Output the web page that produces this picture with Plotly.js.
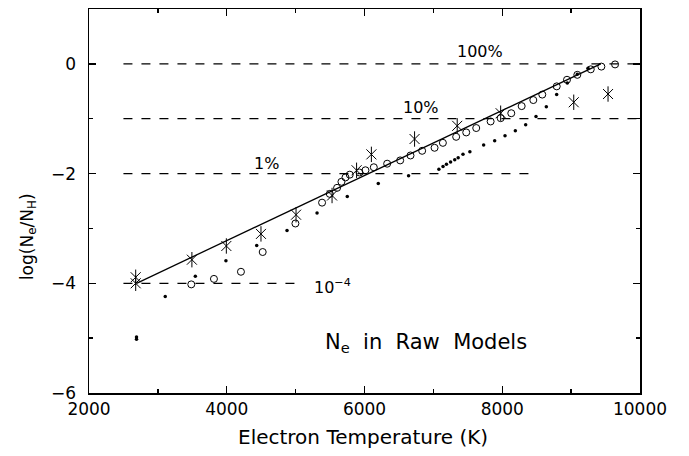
<!DOCTYPE html>
<html>
<head>
<meta charset="utf-8">
<script src="https://cdn.plot.ly/plotly-3.0.1.min.js"></script>
<style>html,body{margin:0;padding:0;background:#fff;}#chart{width:689px;height:456px;}</style>
</head>
<body>
<div id="chart"></div>
<script>
// Open circles
const circT = [3485, 3814, 4206, 4522, 4997, 5384, 5496, 5602, 5665, 5724, 5786, 5927, 6014, 6135, 6329, 6518, 6668, 6837, 7017, 7138, 7331, 7477, 7622, 7831, 7977, 8131, 8282, 8451, 8581, 8791, 8940, 9090, 9285, 9439, 9638];
const circY = [-4.02, -3.92, -3.79, -3.43, -2.91, -2.53, -2.37, -2.26, -2.15, -2.07, -2.02, -1.98, -1.94, -1.885, -1.82, -1.76, -1.67, -1.585, -1.53, -1.44, -1.33, -1.25, -1.17, -1.05, -0.99, -0.90, -0.77, -0.66, -0.56, -0.41, -0.29, -0.20, -0.10, -0.05, -0.01];
// Asterisks
const starT = [2678, 2678, 3494, 3994, 4497, 5006, 5529, 5885, 6100, 6727, 7346, 7977, 9038, 9536];
const starY = [-3.89, -4.00, -3.57, -3.32, -3.10, -2.75, -2.40, -1.94, -1.65, -1.37, -1.13, -0.90, -0.70, -0.55];
// Small dots
const dotT = [2690, 2690, 3107, 3544, 3988, 4435, 4875, 5311, 5750, 6200, 6640, 7080, 7140, 7190, 7250, 7310, 7360, 7430, 7530, 7730, 7890, 8040, 8190, 8340, 8490, 8640, 8790, 8945, 9090, 9245];
const dotY = [-4.98, -5.02, -4.24, -3.87, -3.59, -3.31, -3.04, -2.72, -2.42, -2.18, -2.04, -1.92, -1.87, -1.83, -1.79, -1.75, -1.71, -1.65, -1.60, -1.48, -1.40, -1.31, -1.22, -1.11, -0.96, -0.78, -0.56, -0.35, -0.19, -0.08];
// Fitted line
const fitT = [2690, 9430];
const fitY = [-4.0, 0.0];
// Reference (ionization fraction) dashed lines
const refLevels = [0, -1, -2, -4];
const refStart = [2500, 2500, 2500, 2500];
const refEnd = [10000, 10000, 8500, 5000];
const refLabels = ['100%', '10%', '1%', '10<sup>\u22124</sup>'];
const refLabelT = [7677, 6820, 4580, 5238];
const refLabelY = [0.22, -0.80, -1.82, -4.05];
// Axis ticks
const xTicks = [2000, 4000, 6000, 8000, 10000];
const yTicks = [-6, -4, -2, 0];

const FONT = 'DejaVu Sans, Liberation Sans, sans-serif';
const traces = [];
refLevels.forEach((lv, i) => {
  traces.push({x: [refStart[i], refEnd[i]], y: [lv, lv], mode: 'lines', line: {color: '#000', width: 1.3, dash: '9px,9px'}, hoverinfo: 'skip', showlegend: false});
});
traces.push({x: fitT, y: fitY, mode: 'lines', line: {color: '#000', width: 1.3}, showlegend: false});
traces.push({x: circT, y: circY, mode: 'markers', marker: {symbol: 'circle-open', size: 7, color: '#000', line: {width: 1, color: '#000'}}, showlegend: false});
// six-armed asterisk: vertical bar + X
traces.push({x: starT, y: starY, mode: 'markers', marker: {symbol: 'line-ns-open', size: 11, color: '#000', line: {width: 1, color: '#000'}}, showlegend: false});
traces.push({x: starT, y: starY, mode: 'markers', marker: {symbol: 'x-thin-open', size: 10, color: '#000', line: {width: 1, color: '#000'}}, showlegend: false});
traces.push({x: dotT, y: dotY, mode: 'markers', marker: {symbol: 'circle', size: 3.5, color: '#000'}, showlegend: false});

const annotations = refLabels.map((t, i) => ({
  x: refLabelT[i], y: refLabelY[i], xref: 'x', yref: 'y', text: t, showarrow: false,
  xanchor: i === 3 ? 'left' : 'center', yanchor: 'middle', font: {family: FONT, size: 16, color: '#000'}
}));
annotations.push({x: 5397, y: -5.09, xref: 'x', yref: 'y', text: 'N<sub>e</sub>  in  Raw  Models', showarrow: false, xanchor: 'left', yanchor: 'middle', font: {family: FONT, size: 21, color: '#000'}});
annotations.push({x: -0.1107, y: 0.406, xref: 'paper', yref: 'paper', text: 'log(N<sub>e</sub>/N<sub>H</sub>)', textangle: -90, showarrow: false, xanchor: 'center', yanchor: 'middle', font: {family: FONT, size: 17, color: '#000'}});
annotations.push({x: 0.497, y: -0.1146, xref: 'paper', yref: 'paper', text: 'Electron Temperature (K)', showarrow: false, xanchor: 'center', yanchor: 'middle', font: {family: FONT, size: 20, color: '#000'}});

const axisCommon = {
  showgrid: false, zeroline: false, showline: true, linecolor: '#000', linewidth: 1.5,
  mirror: 'ticks', ticks: 'inside', ticklen: 7, tickwidth: 1.3, tickcolor: '#000',
  tickfont: {family: FONT, size: 17, color: '#000'}, tickformat: 'd'
};
const layout = {
  width: 689, height: 456,
  margin: {l: 89, r: 49, t: 9, b: 63},
  paper_bgcolor: '#fff', plot_bgcolor: '#fff',
  showlegend: false,
  xaxis: Object.assign({}, axisCommon, {range: [2000, 10000], tickmode: 'array', tickvals: xTicks,
    minor: {dtick: 1000, tick0: 2000, ticks: 'inside', ticklen: 4, tickcolor: '#000', tickwidth: 1.3}}),
  yaxis: Object.assign({}, axisCommon, {range: [-6, 1], tickmode: 'array', tickvals: yTicks, ticklabelstandoff: 8,
    minor: {dtick: 1, tick0: 0, ticks: 'inside', ticklen: 4, tickcolor: '#000', tickwidth: 1.3}}),
  annotations: annotations
};
Plotly.newPlot('chart', traces, layout, {staticPlot: true, displayModeBar: false});
</script>
</body>
</html>
